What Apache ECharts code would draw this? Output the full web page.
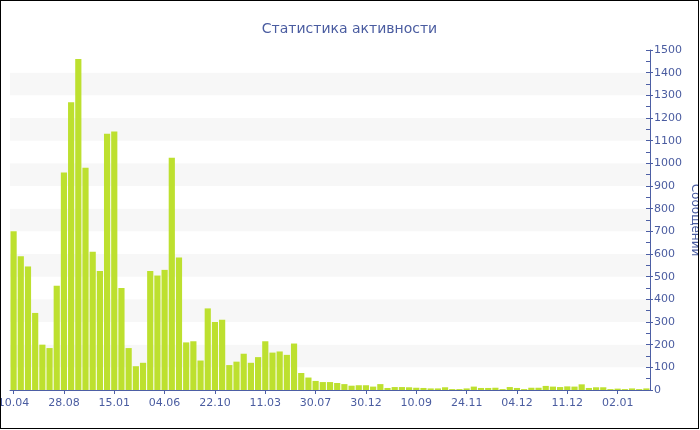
<!DOCTYPE html>
<html>
<head>
<meta charset="utf-8">
<script src="https://cdn.jsdelivr.net/npm/echarts@6/dist/echarts.min.js"></script>
<style>
  html, body { margin: 0; padding: 0; background: #fff; }
  #frame { width: 699px; height: 429px; box-sizing: border-box; border: 1px solid #000; }
  #chart { width: 697px; height: 427px; }
</style>
</head>
<body>
<div id="frame"><div id="chart"></div></div>
<script>
const titleText = 'Статистика активности';
const yAxisName = 'Сообщений';
const tickLabels = ['10.04', '28.08', '15.01', '04.06', '22.10', '11.03', '30.07', '30.12', '10.09', '24.11', '04.12', '11.12', '02.01'];
const messages = [
  700, 590, 545, 340, 200, 185, 460, 960, 1270, 1460,
  980, 610, 525, 1130, 1140, 450, 185, 105, 120, 525,
  505, 530, 1025, 585, 210, 215, 130, 360, 300, 310,
  110, 125, 160, 120, 145, 215, 165, 170, 155, 205,
  75, 55, 40, 35, 35, 31, 26, 19, 21, 21,
  15, 26, 9, 13, 13, 12, 10, 9, 7, 7,
  12, 4, 4, 7, 15, 9, 9, 10, 4, 13,
  9, 4, 10, 10, 18, 15, 13, 16, 15, 25,
  9, 12, 12, 4, 6, 4, 7, 4, 7
];
const categories = messages.map((v, i) => String(i));

const textColor = '#4a5ca0';
const axisColor = '#4d5fa5';
const font = 'DejaVu Sans';

const chart = echarts.init(document.getElementById('chart'));
chart.setOption({
  animation: false,
  textStyle: { fontFamily: font },
  title: {
    text: titleText,
    left: 'center',
    top: 16,
    textStyle: { color: textColor, fontSize: 14, fontWeight: 'normal', fontFamily: font }
  },
  grid: { left: 9, right: 48, top: 49, bottom: 38, containLabel: false, outerBoundsMode: 'none' },
  xAxis: {
    type: 'category',
    data: categories,
    axisLine: { lineStyle: { color: axisColor, width: 1 } },
    axisTick: { show: true, interval: 6, alignWithLabel: true, length: 4, lineStyle: { color: axisColor } },
    axisLabel: {
      interval: 6,
      color: textColor,
      fontSize: 11,
      fontFamily: font,
      margin: 8,
      hideOverlap: false,
      formatter: (v, i) => tickLabels[Math.round(i / 7)] || ''
    },
    splitLine: { show: false }
  },
  yAxis: [
    {
      type: 'value',
      position: 'right',
      min: 0, max: 1500, interval: 100,
      name: yAxisName,
      nameLocation: 'middle',
      nameRotate: -90,
      nameGap: 39,
      nameMoveOverlap: false,
      nameTextStyle: { color: textColor, fontSize: 12, fontFamily: font },
      axisLine: { show: true, lineStyle: { color: axisColor, width: 1 } },
      axisTick: { show: true, inside: false, length: 3, lineStyle: { color: axisColor } },
      axisLabel: { color: textColor, fontSize: 11, fontFamily: font, margin: 4, formatter: v => String(v) },
      splitLine: { show: false },
      splitArea: { show: true, areaStyle: { color: ['#ffffff', '#f7f7f7'] } }
    },
    {
      type: 'value',
      position: 'right',
      min: 0, max: 1500, interval: 100,
      axisLine: { show: false },
      axisTick: { show: true, inside: true, length: 4, lineStyle: { color: axisColor } },
      minorTick: { show: true, splitNumber: 2, length: 4, lineStyle: { color: axisColor } },
      axisLabel: { show: false },
      splitLine: { show: false },
      splitArea: { show: false }
    }
  ],
  series: [{
    type: 'bar',
    data: messages,
    yAxisIndex: 0,
    barCategoryGap: '14%',
    itemStyle: { color: '#bde02f' }
  }]
});
</script>
</body>
</html>
